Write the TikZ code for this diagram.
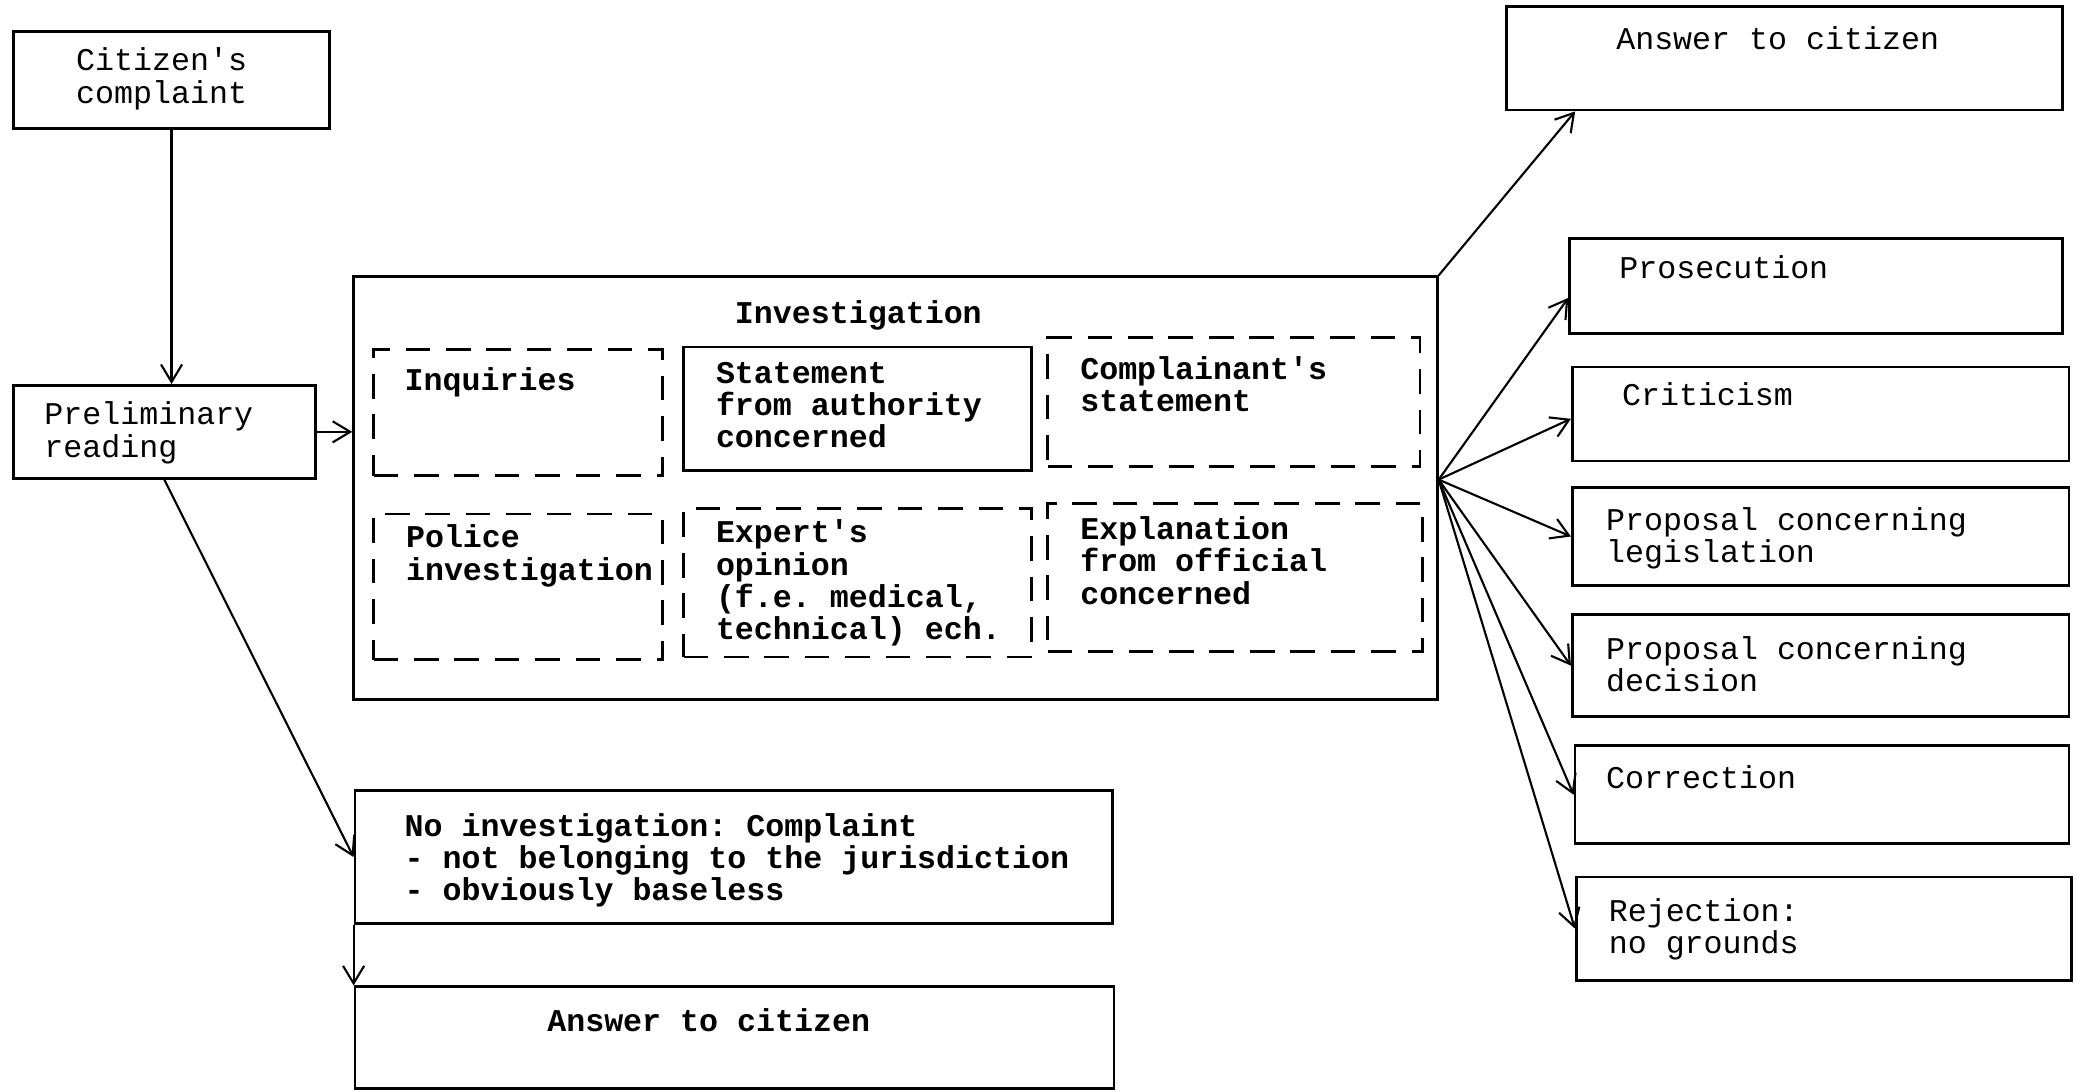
\documentclass[tikz,border=0pt]{standalone}
\usepackage{fontspec}
\setmonofont{Liberation Mono}
\usetikzlibrary{fit,arrows.meta,calc}
\begin{document}
\begin{tikzpicture}[x=0.013246cm,y=-0.013246cm,
  box/.style={draw, line width=0.8pt, inner sep=0pt},
  dbox/.style={box, dash pattern=on 7pt off 4.5pt},
  txt/.style={inner sep=0pt, align=left, font=\ttfamily\fontsize{9}{9.2}\selectfont},
  btxt/.style={inner sep=0pt, align=left, font=\ttfamily\bfseries\fontsize{9}{9.2}\selectfont},
  arr/.style={-{Straight Barb[length=5pt,width=6pt]}, line width=0.6pt}]
\useasboundingbox (0,0) rectangle (1568,824);

% boxes
\node[box, fit={(10,24) (249,97)}] (cit) {};
\node[box, fit={(10,291) (238,361)}] (pre) {};
\node[box, fit={(267,209) (1085,528)}] (inv) {};
\node[dbox, fit={(282,264) (500,359)}] (inq) {};
\node[box, fit={(516,262) (779,355)}] (stm) {};
\node[dbox, fit={(791,255) (1072,352)}] (cmp) {};
\node[dbox, fit={(282,388) (500,498)}] (pol) {};
\node[dbox, fit={(516,384) (779,496)}] (exp) {};
\node[dbox, fit={(791,380) (1074,492)}] (expl) {};
\node[box, fit={(1137,5) (1557,83)}] (ans1) {};
\node[box, fit={(1185,180) (1557,252)}] (pros) {};
\node[box, fit={(1187,277) (1562,348)}] (crit) {};
\node[box, fit={(1187,368) (1562,442)}] (leg) {};
\node[box, fit={(1187,464) (1562,541)}] (dec) {};
\node[box, fit={(1189,563) (1562,637)}] (cor) {};
\node[box, fit={(1190,662) (1564,740)}] (rej) {};
\node[box, fit={(268,597) (840,697)}] (noinv) {};
\node[box, fit={(268,745) (841,822)}] (ans2) {};

% texts (multi-line nodes: base = baseline of last line)
\node[txt, align=center, anchor=base] (citT) at (122,78) {Citizen's\\complaint};
\node[txt, anchor=base west] (preT) at (33,345) {Preliminary\\reading};
\node[btxt, anchor=base] (invT) at (648,244) {Investigation};
\node[btxt, anchor=base west] (inqT) at (305,295) {Inquiries};
\node[btxt, anchor=base west] (stmT) at (540,338) {Statement\\from authority\\concerned};
\node[btxt, anchor=base west] (cmpT) at (815,311) {Complainant's\\statement};
\node[btxt, anchor=base west] (polT) at (306,438) {Police\\investigation};
\node[btxt, anchor=base west] (expT) at (540,483) {Expert's\\opinion\\(f.e. medical,\\technical) ech.};
\node[btxt, anchor=base west] (explT) at (815,456) {Explanation\\from official\\concerned};
\node[btxt, anchor=base west] (noinvT) at (305,680) {No investigation: Complaint\\- not belonging to the jurisdiction\\- obviously baseless};
\node[btxt, anchor=base] (ans2T) at (535,779) {Answer to citizen};
\node[txt, anchor=base] (ans1T) at (1342,37) {Answer to citizen};
\node[txt, anchor=base west] (prosT) at (1222,210) {Prosecution};
\node[txt, anchor=base west] (critT) at (1224,306) {Criticism};
\node[txt, anchor=base west] (legT) at (1212,425) {Proposal concerning\\legislation};
\node[txt, anchor=base west] (decT) at (1212,522) {Proposal concerning\\decision};
\node[txt, anchor=base west] (corT) at (1212,595) {Correction};
\node[txt, anchor=base west] (rejT) at (1214,720) {Rejection:\\no grounds};

% connectors
\draw[arr] (cit.south) -- (cit.south |- pre.north);
\draw[arr] (pre.east) -- (pre.east -| inv.west);
\draw[arr] (pre.south) -- (noinv.west);
\draw[arr] (noinv.south west) -- (ans2.north west);
\draw[arr] (inv.north east) -- ($(ans1.south west)!0.126!(ans1.south east)$);
\coordinate (hub) at ($(inv.north east)!0.48!(inv.south east)$);
\draw[arr] (hub) -- ($(pros.north west)!0.62!(pros.south west)$);
\draw[arr] (hub) -- ($(crit.north west)!0.55!(crit.south west)$);
\draw[arr] (hub) -- (leg.west);
\draw[arr] (hub) -- (dec.west);
\draw[arr] (hub) -- (cor.west);
\draw[arr] (hub) -- (rej.west);
\end{tikzpicture}
\end{document}
